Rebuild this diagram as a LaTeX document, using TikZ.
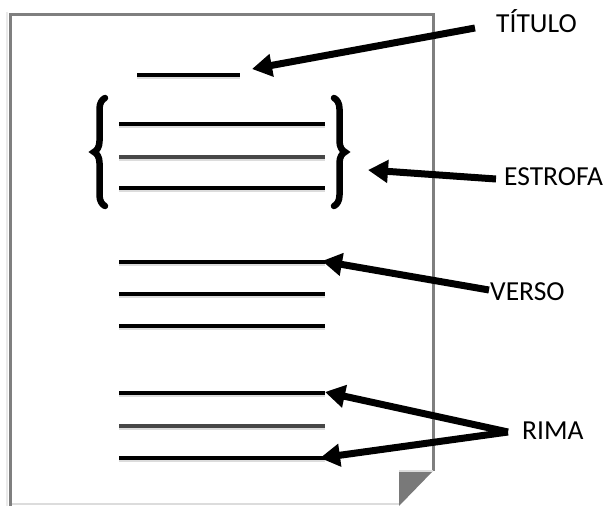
\documentclass[tikz,border=0pt]{standalone}
\usepackage{fontspec}
\setmainfont{Carlito}
\usetikzlibrary{arrows.meta,decorations.pathreplacing}
\definecolor{pagegray}{HTML}{7F7F7F}
\definecolor{shadowgray}{HTML}{DCDCDC}
\tikzset{
  verseline/.style={line width=3.2pt,black},
  darkline/.style={line width=4pt,black!72},
  lineshadow/.style={line width=3pt,shadowgray},
  callout/.style={line width=7pt,-{Triangle[length=20pt,width=22pt]}},
  lbl/.style={font=\fontsize{27.5}{31}\selectfont,inner sep=0pt},
  bracestyle/.style={line width=6.5pt,line cap=round,decorate,decoration={brace,amplitude=11pt,aspect=0.5}}
}
\begin{document}
\begin{tikzpicture}[x=1pt,y=-1pt]
\useasboundingbox (0,0) rectangle (611,506);
% page
\fill[shadowgray!60] (6,12) rectangle (8,506);
\draw[shadowgray,line width=2pt] (10,504) -- (399,504);
\draw[pagegray,line width=3pt] (10,506) -- (10,14) -- (433,14) -- (433,471);
\fill[pagegray!95!black] (399,471) -- (433,471) -- (399,506) -- cycle;
\draw[shadowgray,line width=1.5pt] (399,471) -- (433,471);
% lines: name coordinates
\foreach \n/\y/\xa/\xb in {t/75/137/240, s1/124/119/325, s2/157/119/325, s3/188/119/325,
  v1/262/119/325, v2/294/119/325, v3/326/119/325, r1/393/119/325, r2/426/119/325, r3/458/119/325}{
  \coordinate (\n L) at (\xa,\y);
  \coordinate (\n R) at (\xb,\y);
  \draw[lineshadow] ([yshift=-2pt]\n L) -- ([yshift=-2pt]\n R);
}
\foreach \n in {t,s1,s3,v1,v2,v3,r1,r3}{\draw[verseline] (\n L) -- (\n R);}
\foreach \n in {s2,r2}{\draw[darkline] (\n L) -- (\n R);}
% braces
\coordinate (lbT) at (105,98);
\coordinate (lbB) at (105,206);
\coordinate (rbT) at (334,98);
\coordinate (rbB) at (334,206);
\draw[bracestyle] (lbB) -- (lbT);
\draw[bracestyle] (rbT) -- (rbB);
% labels
\node[lbl,anchor=west] (titulo) at (496,21) {TÍTULO};
\node[lbl,anchor=west] (estrofa) at (504,177) {ESTROFA};
\node[lbl,anchor=west] (verso) at (490,292) {VERSO};
\node[lbl,anchor=west] (rima) at (522,431) {RIMA};
% arrow tails / tips
\coordinate (ttail) at (475,28);
\coordinate (ttip) at (252,69);
\coordinate (etail) at (496,179);
\coordinate (etip) at (368,170);
\coordinate (vtail) at (489,290);
\coordinate (vtip) at (322,261);
\coordinate (rtail) at (508,432);
\coordinate (rtip1) at (325,392);
\coordinate (rtip2) at (320,458);
\draw[callout] (ttail) -- (ttip);
\draw[callout] (etail) -- (etip);
\draw[callout] (vtail) -- (vtip);
\draw[callout] (rtail) -- (rtip1);
\draw[callout] (rtail) -- (rtip2);
\end{tikzpicture}
\end{document}
